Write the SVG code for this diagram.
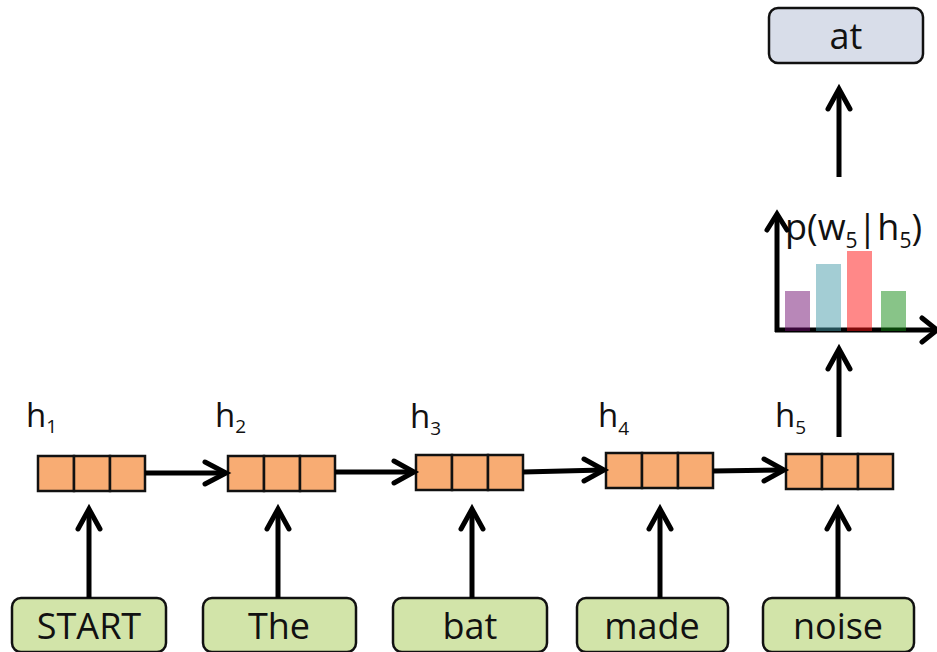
<svg xmlns="http://www.w3.org/2000/svg" width="937" height="652" viewBox="0 0 937 652">
  <style>
    .cell { fill: #f8ac73; stroke: #111; stroke-width: 2.5; }
    .word { fill: #d2e4a9; stroke: #111; stroke-width: 2.5; }
    .out { fill: #d8dde9; stroke: #111; stroke-width: 2.5; }
    .lbl { font-family: "Open Sans", "DejaVu Sans", sans-serif; fill: #111; }
    .wtxt { font-size: 36px; text-anchor: middle; }
    .htxt { font-size: 33px; }
    .sub { font-size: 19px; }
    .edge { fill: none; stroke: #000; stroke-width: 5; stroke-linecap: butt; }
    .head { fill: none; stroke: #000; stroke-width: 5; stroke-linecap: round; stroke-linejoin: miter; }
  </style>
  <defs>
    <!-- hidden state: three-cell vector -->
    <g id="vec">
      <rect class="cell" x="0" y="0" width="36" height="35"/>
      <rect class="cell" x="36" y="0" width="36" height="35"/>
      <rect class="cell" x="72" y="0" width="35" height="35"/>
    </g>
  </defs>

  <!-- hidden states -->
  <g id="h1">
    <use href="#vec" x="38" y="456"/>
    <text class="lbl htxt" x="26" y="427">h<tspan class="sub" dy="6">1</tspan></text>
  </g>
  <g id="h2">
    <use href="#vec" x="228" y="456"/>
    <text class="lbl htxt" x="215" y="427">h<tspan class="sub" dy="6">2</tspan></text>
  </g>
  <g id="h3">
    <use href="#vec" x="416" y="455"/>
    <text class="lbl htxt" x="410" y="428">h<tspan class="sub" dy="7">3</tspan></text>
  </g>
  <g id="h4">
    <use href="#vec" x="606" y="453"/>
    <text class="lbl htxt" x="598" y="427">h<tspan class="sub" dy="8">4</tspan></text>
  </g>
  <g id="h5">
    <use href="#vec" x="786" y="454"/>
    <text class="lbl htxt" x="775" y="427">h<tspan class="sub" dy="7">5</tspan></text>
  </g>

  <!-- input words -->
  <g id="w-start">
    <rect class="word" x="12" y="598" width="154" height="54" rx="9"/>
    <text class="lbl wtxt" x="89" y="639">START</text>
  </g>
  <g id="w-the">
    <rect class="word" x="203" y="598" width="153" height="54" rx="9"/>
    <text class="lbl wtxt" x="279" y="639">The</text>
  </g>
  <g id="w-bat">
    <rect class="word" x="393" y="598" width="154" height="54" rx="9"/>
    <text class="lbl wtxt" x="470" y="639">bat</text>
  </g>
  <g id="w-made">
    <rect class="word" x="577" y="598" width="151" height="54" rx="9"/>
    <text class="lbl wtxt" x="652" y="639">made</text>
  </g>
  <g id="w-noise">
    <rect class="word" x="763" y="598" width="151" height="54" rx="9"/>
    <text class="lbl wtxt" x="838" y="639">noise</text>
  </g>

  <!-- output word -->
  <g id="out-at">
    <rect class="out" x="769" y="8" width="154" height="55" rx="9"/>
    <text class="lbl wtxt" x="846" y="49">at</text>
  </g>

  <!-- distribution over next word -->
  <g id="dist">
    <text class="lbl" x="785" y="240" font-size="36">p(w<tspan font-size="21" dy="8">5</tspan><tspan dy="-8">|h</tspan><tspan font-size="21" dy="8">5</tspan><tspan dy="-8">)</tspan></text>
    <line class="edge" x1="777" y1="214" x2="777" y2="332"/>
    <line class="edge" x1="775" y1="330" x2="940" y2="330"/>
    <polyline class="head" points="767,230 777,214 787,230"/>
    <polyline class="head" points="922,318 937,330 922,342"/>
    <rect x="785" y="291" width="25" height="40" fill="#710f71" fill-opacity="0.5"/>
    <rect x="816" y="264" width="25" height="67" fill="#479ba9" fill-opacity="0.5"/>
    <rect x="847" y="251" width="25" height="80" fill="#ff1111" fill-opacity="0.5"/>
    <rect x="881" y="291" width="25" height="40" fill="#118911" fill-opacity="0.5"/>
  </g>

  <!-- connectors -->
  <g id="edges">
    <!-- recurrent links -->
    <line class="edge" x1="145" y1="473" x2="225" y2="473"/>
    <polyline class="head" points="205,462 226,473 205,484"/>
    <line class="edge" x1="335" y1="472" x2="413" y2="472"/>
    <polyline class="head" points="394,461 414,472 394,483"/>
    <line class="edge" x1="523" y1="472" x2="603" y2="470"/>
    <polyline class="head" points="584,459 604,470 584,481"/>
    <line class="edge" x1="713" y1="471" x2="783" y2="470"/>
    <polyline class="head" points="764,459 784,470 764,481"/>

    <!-- word inputs -->
    <line class="edge" x1="89" y1="598" x2="89" y2="510"/>
    <polyline class="head" points="78,529 89,509 100,529"/>
    <line class="edge" x1="278" y1="598" x2="278" y2="510"/>
    <polyline class="head" points="267,529 278,509 289,529"/>
    <line class="edge" x1="472" y1="598" x2="472" y2="510"/>
    <polyline class="head" points="461,529 472,509 483,529"/>
    <line class="edge" x1="660" y1="598" x2="660" y2="510"/>
    <polyline class="head" points="649,529 660,509 671,529"/>
    <line class="edge" x1="838" y1="598" x2="838" y2="510"/>
    <polyline class="head" points="827,529 838,509 849,529"/>

    <!-- state to distribution -->
    <line class="edge" x1="839" y1="437" x2="839" y2="350"/>
    <polyline class="head" points="828,369 839,349 850,369"/>

    <!-- distribution to output -->
    <line class="edge" x1="839" y1="177" x2="839" y2="90"/>
    <polyline class="head" points="828,109 839,89 850,109"/>
  </g>
</svg>
